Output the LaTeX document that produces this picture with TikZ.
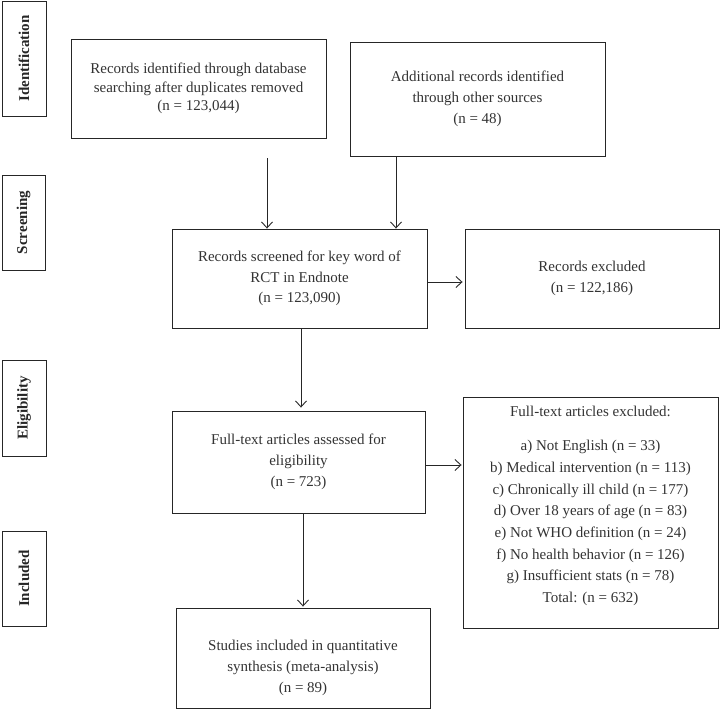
\documentclass[tikz,border=0pt]{standalone}
\usepackage{fontspec}
\setmainfont{Liberation Serif}
\usetikzlibrary{arrows.meta}
\begin{document}
\begin{tikzpicture}[x=1pt,y=-1pt,
  box/.style={draw=black!85,line width=0.9pt,inner sep=0pt,align=center,
    font=\fontsize{15}{20.7}\selectfont,text=black!80},
  plain/.style={inner sep=0pt,align=center,font=\fontsize{15}{20.7}\selectfont,text=black!80},
  side/.style={draw=black!85,line width=0.9pt,inner sep=0pt,
    font=\fontsize{15}{18}\selectfont\bfseries,text=black!85,rotate=90},
  arr/.style={draw=black!85,line width=0.9pt,-{Straight Barb[length=6pt,width=11pt,line width=0.9pt]}}]
\useasboundingbox (0,0) rectangle (720,709);

% phase labels
\node[side,minimum width=115pt,minimum height=44pt] (sid) at (24,58.5) {Identification};
\node[side,minimum width=95pt,minimum height=43pt] (sscr) at (23.5,222.5) {Screening};
\node[side,minimum width=96pt,minimum height=44pt] (seli) at (24,408) {Eligibility};
\node[side,minimum width=95pt,minimum height=44pt] (sinc) at (24,578.5) {Included};

% boxes
\node[box,minimum width=255pt,minimum height=99pt,font=\fontsize{15}{18.5}\selectfont] (b1) at (198.5,88.5)
  {Records identified through database\\searching after duplicates removed\\(n = 123,044)};
\node[box,minimum width=255pt,minimum height=114pt] (b2) at (477.5,99)
  {Additional records identified\\through other sources\\(n = 48)};
\node[box,minimum width=255pt,minimum height=99pt] (b3) at (299.5,278.5)
  {Records screened for key word of\\RCT in Endnote\\(n = 123,090)};
\node[box,minimum width=254pt,minimum height=99pt] (b4) at (592,278.5)
  {Records excluded\\(n = 122,186)};
\node[box,minimum width=253pt,minimum height=102pt] (b5) at (298.5,462)
  {Full-text articles assessed for\\eligibility\\(n = 723)};
\node[box,minimum width=255pt,minimum height=231pt] (b6) at (590.5,512.5) {};
\node[plain,font=\fontsize{15}{21.7}\selectfont] (b6t) at (590.5,506)
  {Full-text articles excluded:\\[12.5pt]
   a) Not English (n = 33)\\
   b) Medical intervention (n = 113)\\
   c) Chronically ill child (n = 177)\\
   d) Over 18 years of age (n = 83)\\
   e) Not WHO definition (n = 24)\\
   f) No health behavior (n = 126)\\
   g) Insufficient stats (n = 78)\\
   Total: (n = 632)};
\node[box,minimum width=254pt,minimum height=100pt] (b7) at (303,658) {};
\node[plain] (b7t) at (303,668)
  {Studies included in quantitative\\synthesis (meta-analysis)\\(n = 89)};

% connectors
\coordinate (c1) at (267,158);
\draw[arr] (c1) -- (c1 |- b3.north);
\draw[arr] ([xshift=-81.5pt]b2.south) -- ([xshift=-81.5pt]b2.south |- b3.north);
\draw[arr] ([yshift=-3.5pt]b3.east) -- ([yshift=-3.5pt,xshift=-2pt]b4.west);
\draw[arr,shorten >=3pt] ([xshift=1.5pt]b3.south) -- ([xshift=1.5pt]b3.south |- b5.north);
\draw[arr] ([yshift=-3pt]b5.east) -- ([yshift=-3pt,xshift=-1pt]b5.east -| b6.west);
\draw[arr,shorten >=1pt] ([xshift=4.5pt]b5.south) -- ([xshift=4.5pt]b5.south |- b7.north);
\end{tikzpicture}
\end{document}
